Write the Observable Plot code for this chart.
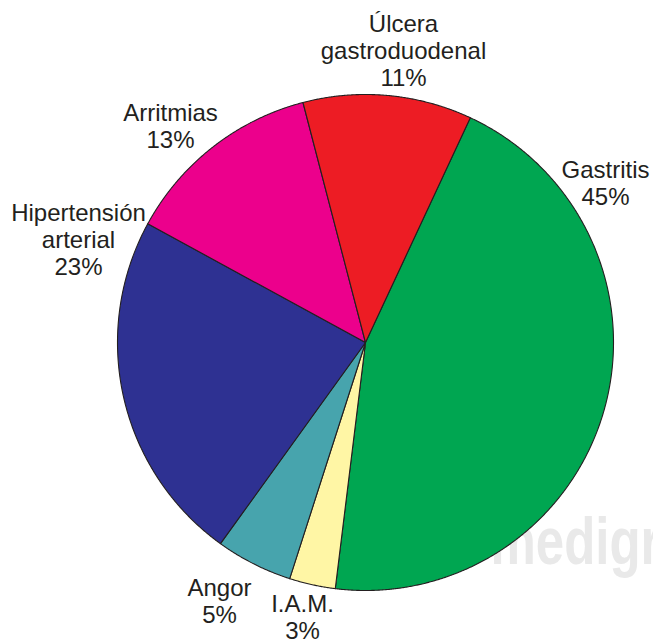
<!DOCTYPE html>
<html><head><meta charset="utf-8">
<script src="https://cdn.jsdelivr.net/npm/d3@7"></script>
<script src="https://cdn.jsdelivr.net/npm/@observablehq/plot@0.6"></script>
<style>body{margin:0;background:#fff}</style>
</head><body><div id="chart"></div>
<script>
// Data
const categories = ["Gastritis", "I.A.M.", "Angor", "Hipertensión\narterial", "Arritmias", "Úlcera\ngastroduodenal"];
const values = [45, 3, 5, 23, 13, 11];
const colors = ["#00a651", "#fff6a5", "#47a4ad", "#2e3192", "#ec008c", "#ed1c24"];
const watermark = ["medigraphic"];

// Layout (pixels relative to pie centre, y up)
const W = 653, H = 641, CX = 365, CY = 342, R = 248;
const startDeg = 25;
const labelOffsets = [[240, 160], [-63, -274], [-146, -258], [-287, 103], [-195, 217], [38, 292]];

const arcs = d3.pie().sort(null)
  .startAngle(startDeg * Math.PI / 180)
  .endAngle(startDeg * Math.PI / 180 + 2 * Math.PI)(values);

const pts = [];
arcs.forEach((a, i) => {
  const name = categories[i];
  pts.push({k: name, c: colors[i], x: 0, y: 0});
  const n = Math.max(2, Math.ceil((a.endAngle - a.startAngle) / (0.25 * Math.PI / 180)));
  for (let j = 0; j <= n; j++) {
    const t = a.startAngle + (a.endAngle - a.startAngle) * j / n;
    pts.push({k: name, c: colors[i], x: R * Math.sin(t), y: R * Math.cos(t)});
  }
});

const labels = categories.map((c, i) => ({
  text: `${c}\n${values[i]}%`, x: labelOffsets[i][0], y: labelOffsets[i][1]
}));

const chart = Plot.plot({
  width: W, height: H, margin: 0,
  x: {domain: [-CX, W - CX], range: [0, W], axis: null},
  y: {domain: [CY - H, CY], range: [H, 0], axis: null},
  color: {type: "identity"},
  style: {background: "#fff", fontFamily: "'Liberation Sans', Arial, Helvetica, sans-serif"},
  marks: [
    Plot.text(watermark, {x: [125], y: [-221], text: d => d, textAnchor: "start", lineAnchor: "bottom",
      fontSize: 66, fontWeight: "bold", fill: "#e9e9e9"}),
    Plot.line(pts, {x: "x", y: "y", z: "k", fill: "c", stroke: "#231f20", strokeWidth: 1.1,
      curve: "linear-closed", strokeLinejoin: "round"}),
    Plot.text(labels, {x: "x", y: "y", text: "text", fontSize: 24, lineHeight: 1.13,
      fill: "#231f20", textAnchor: "middle"})
  ]
});
chart.querySelectorAll("text").forEach(t => {
  if (t.textContent === watermark[0]) {
    t.setAttribute("textLength", 303);
    t.setAttribute("lengthAdjust", "spacingAndGlyphs");
  }
});
document.getElementById("chart").appendChild(chart);
</script>
</body></html>
